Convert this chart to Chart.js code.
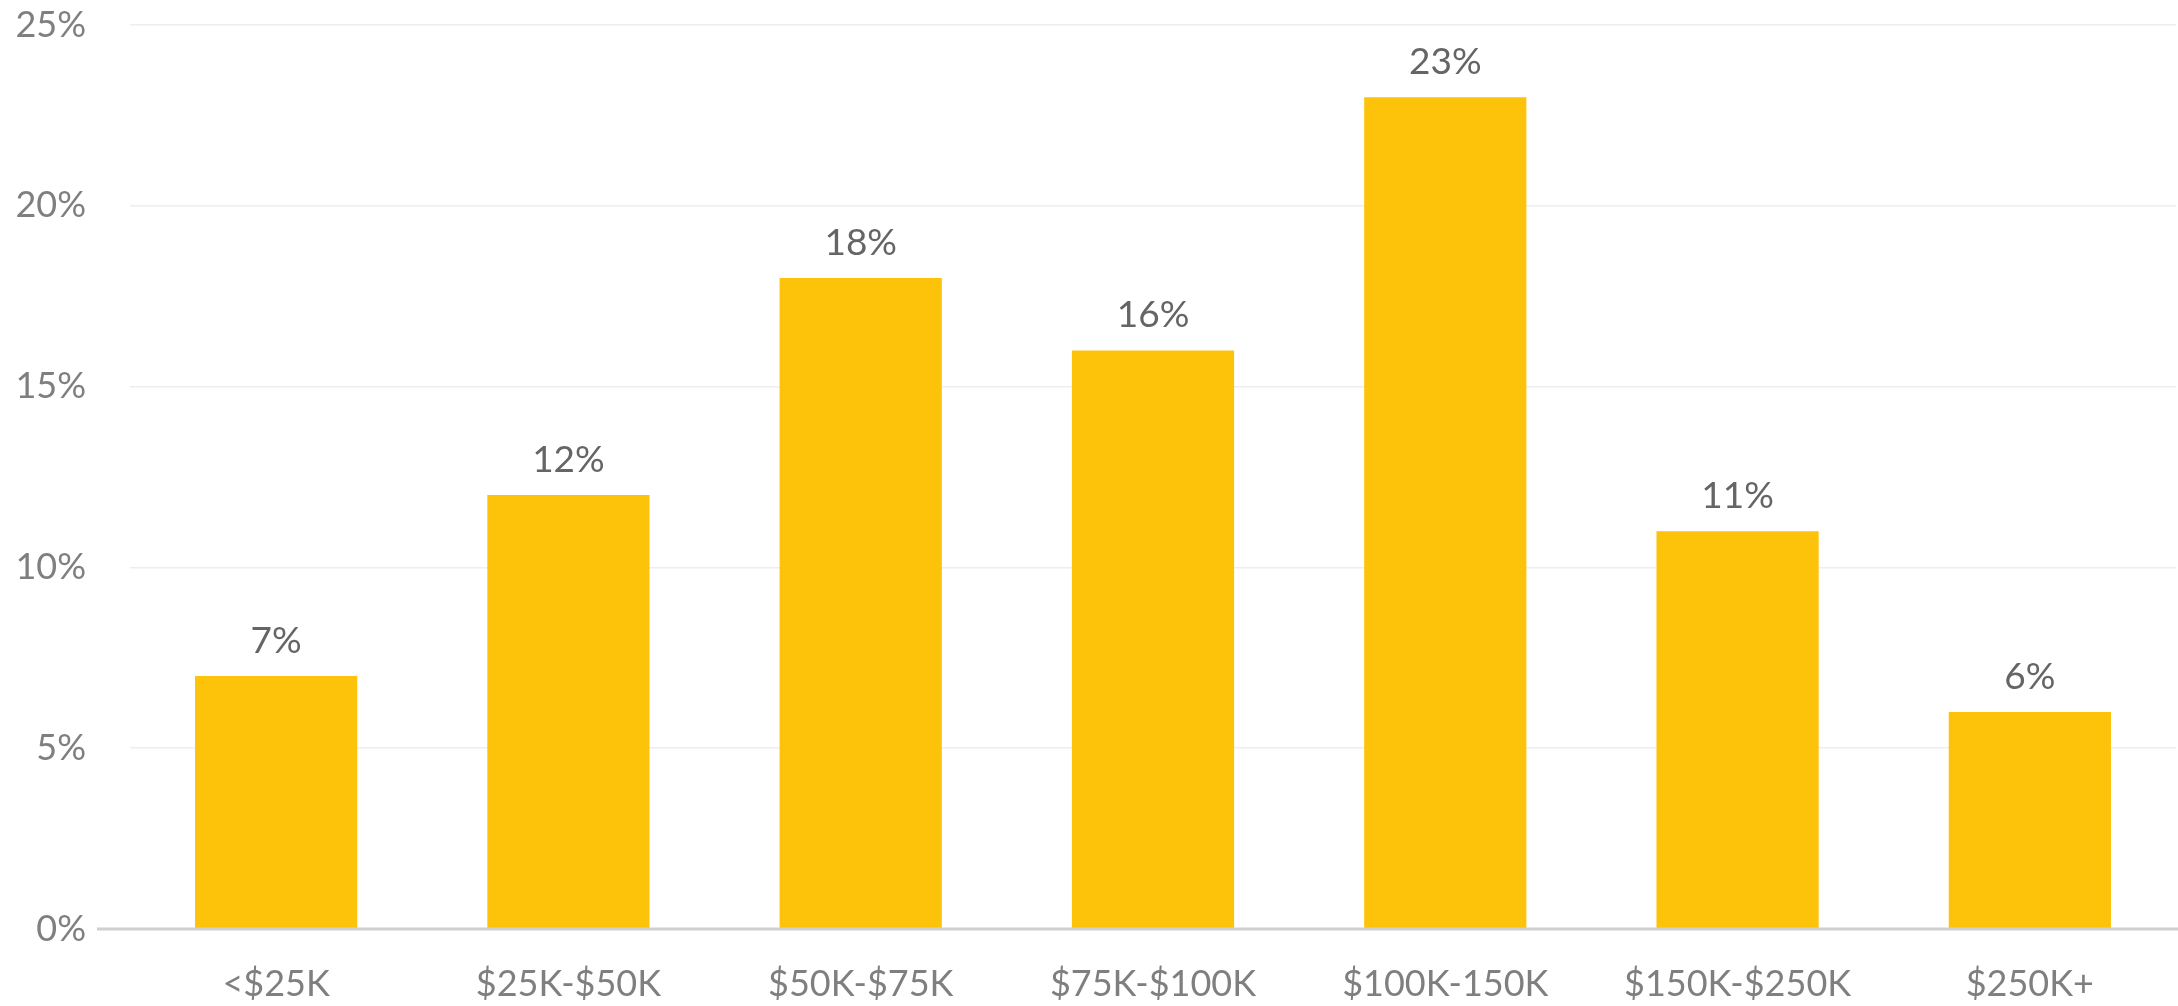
<!DOCTYPE html>
<html>
<head>
<meta charset="utf-8">
<script src="https://cdn.jsdelivr.net/npm/chart.js@4/dist/chart.umd.min.js"></script>
<style>
  html, body { margin: 0; padding: 0; background: #ffffff; }
  #wrap { width: 2178px; height: 1006px; }
</style>
</head>
<body>
<div id="wrap"><canvas id="c" width="2178" height="1006"></canvas></div>
<script>
// Household income brackets and share of respondents (%)
const categories = ['<$25K', '$25K-$50K', '$50K-$75K', '$75K-$100K', '$100K-150K', '$150K-$250K', '$250K+'];
const shares = [7, 12, 18, 16, 23, 11, 6];
const yTicks = [0, 5, 10, 15, 20, 25];

const FONT = 'Lato, "Open Sans", sans-serif';

// Value labels printed above each bar
const valueLabels = {
  id: 'valueLabels',
  afterDatasetsDraw(chart) {
    const ctx = chart.ctx;
    const meta = chart.getDatasetMeta(0);
    ctx.save();
    ctx.fillStyle = '#656565';
    ctx.font = '37px ' + FONT;
    ctx.textAlign = 'center';
    ctx.textBaseline = 'alphabetic';
    meta.data.forEach((bar, i) => {
      ctx.fillText(shares[i] + '%', bar.x, bar.y - 23);
    });
    ctx.restore();
  }
};

// Baseline at 0%, running slightly past the plot area on the left
const baseline = {
  id: 'baseline',
  afterDatasetsDraw(chart) {
    const ctx = chart.ctx;
    const y = chart.scales.y.getPixelForValue(0);
    ctx.save();
    ctx.strokeStyle = '#d0d0d0';
    ctx.lineWidth = 3;
    ctx.beginPath();
    ctx.moveTo(chart.chartArea.left - 33, y);
    ctx.lineTo(chart.chartArea.right + 2, y);
    ctx.stroke();
    ctx.restore();
  }
};

new Chart(document.getElementById('c'), {
  type: 'bar',
  data: {
    labels: categories,
    datasets: [{
      data: shares,
      backgroundColor: '#FDC30B',
      borderWidth: 0,
      categoryPercentage: 1.0,
      barPercentage: 0.555
    }]
  },
  options: {
    responsive: false,
    animation: false,
    devicePixelRatio: 1,
    layout: { padding: { top: 25, right: 2, left: 0, bottom: 0 } },
    plugins: {
      legend: { display: false },
      tooltip: { enabled: false }
    },
    scales: {
      x: {
        grid: { display: false, drawTicks: false },
        border: { display: false },
        ticks: {
          color: '#7f7f7f',
          font: { family: FONT, size: 36 },
          padding: 34,
          maxRotation: 0,
          autoSkip: false
        },
        afterFit(scale) {
          scale.height = 77;
          scale.paddingLeft = 0;
          scale.paddingRight = 0;
        }
      },
      y: {
        min: 0,
        max: 25,
        afterBuildTicks(scale) {
          scale.ticks = yTicks.map(v => ({ value: v }));
        },
        grid: {
          color: '#eeeeee',
          lineWidth: 1.5,
          drawTicks: false
        },
        border: { display: false },
        ticks: {
          color: '#7f7f7f',
          font: { family: FONT, size: 36 },
          padding: 44,
          callback: v => v + '%'
        },
        afterFit(scale) {
          scale.width = 130;
          scale.paddingTop = 0;
          scale.paddingBottom = 0;
        }
      }
    }
  },
  plugins: [valueLabels, baseline]
});
</script>
</body>
</html>
